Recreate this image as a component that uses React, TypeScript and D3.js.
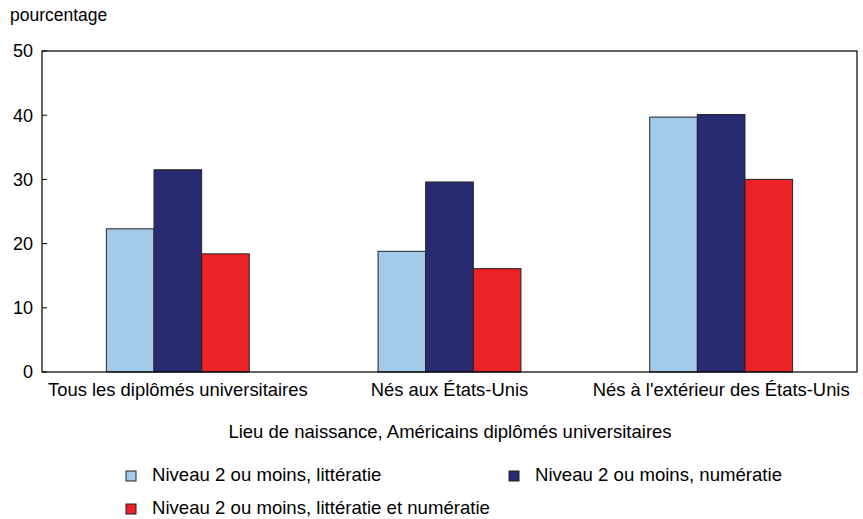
import React from "react";
import * as d3 from "d3";

const categories = [
  "Tous les diplômés universitaires",
  "Nés aux États-Unis",
  "Nés à l'extérieur des États-Unis",
];
const seriesNames = [
  "Niveau 2 ou moins, littératie",
  "Niveau 2 ou moins, numératie",
  "Niveau 2 ou moins, littératie et numératie",
];
const litteratie = [22.3, 18.8, 39.7];
const numeratie = [31.5, 29.6, 40.1];
const lettNum = [18.4, 16.1, 30.0];
const colors = ["#a2cbeb", "#292b72", "#ec2227"];
const yTicks = [0, 10, 20, 30, 40, 50];

const W = 863;
const H = 519;
const margin = { top: 51, right: 6, bottom: 147, left: 42 };
const font = "'Liberation Sans', Arial, sans-serif";

export default function App() {
  const values = [litteratie, numeratie, lettNum];
  const x0 = d3
    .scaleBand<string>()
    .domain(categories)
    .range([margin.left, W - margin.right])
    .paddingInner(0.474)
    .paddingOuter(0.237);
  const x1 = d3
    .scaleBand<number>()
    .domain([0, 1, 2])
    .range([0, x0.bandwidth()]);
  const y = d3
    .scaleLinear()
    .domain([0, 50])
    .range([H - margin.bottom, margin.top]);

  // legend item positions (square top-left, text baseline)
  const legend = [
    { x: 126, y: 481 },
    { x: 509, y: 481 },
    { x: 126, y: 514 },
  ];

  return (
    <svg
      width={W}
      height={H}
      style={{ position: "absolute", left: 0, top: 0, fontFamily: font }}
    >
      <rect width={W} height={H} fill="#fff" />
      <text x={10} y={21} fontSize={17.5}>
        pourcentage
      </text>
      {yTicks.map((t) => (
        <g key={t}>
          <line
            x1={margin.left}
            x2={margin.left + 5}
            y1={y(t)}
            y2={y(t)}
            stroke="#000"
          />
          <text
            x={33}
            y={y(t)}
            dy="0.36em"
            textAnchor="end"
            fontSize={18}
          >
            {t}
          </text>
        </g>
      ))}
      {categories.map((c, i) =>
        values.map((s, j) => (
          <rect
            key={c + j}
            x={(x0(c) ?? 0) + (x1(j) ?? 0)}
            y={y(s[i])}
            width={x1.bandwidth()}
            height={y(0) - y(s[i])}
            fill={colors[j]}
            stroke="#222"
            strokeWidth={1}
          />
        ))
      )}
      <rect
        x={margin.left}
        y={margin.top}
        width={W - margin.right - margin.left}
        height={y(0) - margin.top}
        fill="none"
        stroke="#000"
        strokeWidth={1.2}
      />
      {categories.map((c) => (
        <text
          key={c}
          x={(x0(c) ?? 0) + x0.bandwidth() / 2}
          y={y(0) + 24}
          textAnchor="middle"
          fontSize={18.4}
        >
          {c}
        </text>
      ))}
      <text x={450} y={438} textAnchor="middle" fontSize={18.5}>
        Lieu de naissance, Américains diplômés universitaires
      </text>
      {seriesNames.map((n, j) => (
        <g key={n}>
          <rect
            x={legend[j].x}
            y={legend[j].y - 10}
            width={10}
            height={10}
            fill={colors[j]}
            stroke="#222"
          />
          <text x={legend[j].x + 26} y={legend[j].y} fontSize={18.6}>
            {n}
          </text>
        </g>
      ))}
    </svg>
  );
}
